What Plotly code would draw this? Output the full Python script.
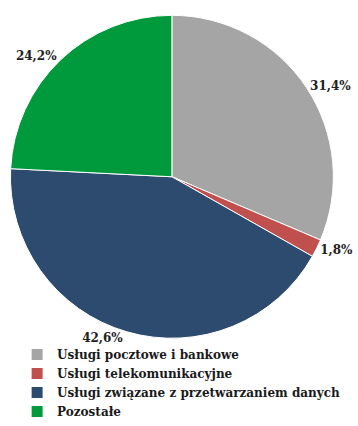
import plotly.graph_objects as go

categories = ["Usługi pocztowe i bankowe", "Usługi telekomunikacyjne",
              "Usługi związane z przetwarzaniem danych", "Pozostałe"]
values = [31.4, 1.8, 42.6, 24.2]
colors = ["#A5A5A5", "#C0504D", "#2D4A6F", "#009A3D"]

FONT = "DejaVu Serif"
W, H = 358, 426

fig = go.Figure(go.Pie(
    labels=categories,
    values=values,
    sort=False,
    direction="clockwise",
    rotation=0,
    domain=dict(x=[11 / W, 351 / W], y=[(H - 342) / H, (H - 2) / H]),
    marker=dict(colors=colors, line=dict(color="white", width=1)),
    texttemplate="%{value:.1f}%",
    textposition="outside",
    textfont=dict(family=FONT, size=12, color="#222222", weight="bold"),
    hoverinfo="label+value",
))

fig.update_layout(
    width=W, height=H,
    separators=", ",
    margin=dict(l=0, r=0, t=0, b=0),
    paper_bgcolor="white",
    plot_bgcolor="white",
    showlegend=True,
    legend=dict(
        x=(58 - 40) / W, y=0, yanchor="bottom", xanchor="left",
        font=dict(family=FONT, size=12, color="#1a1a1a", weight="bold"),
        itemwidth=30, bgcolor="rgba(0,0,0,0)",
    ),
)

fig.write_html("out.html")
